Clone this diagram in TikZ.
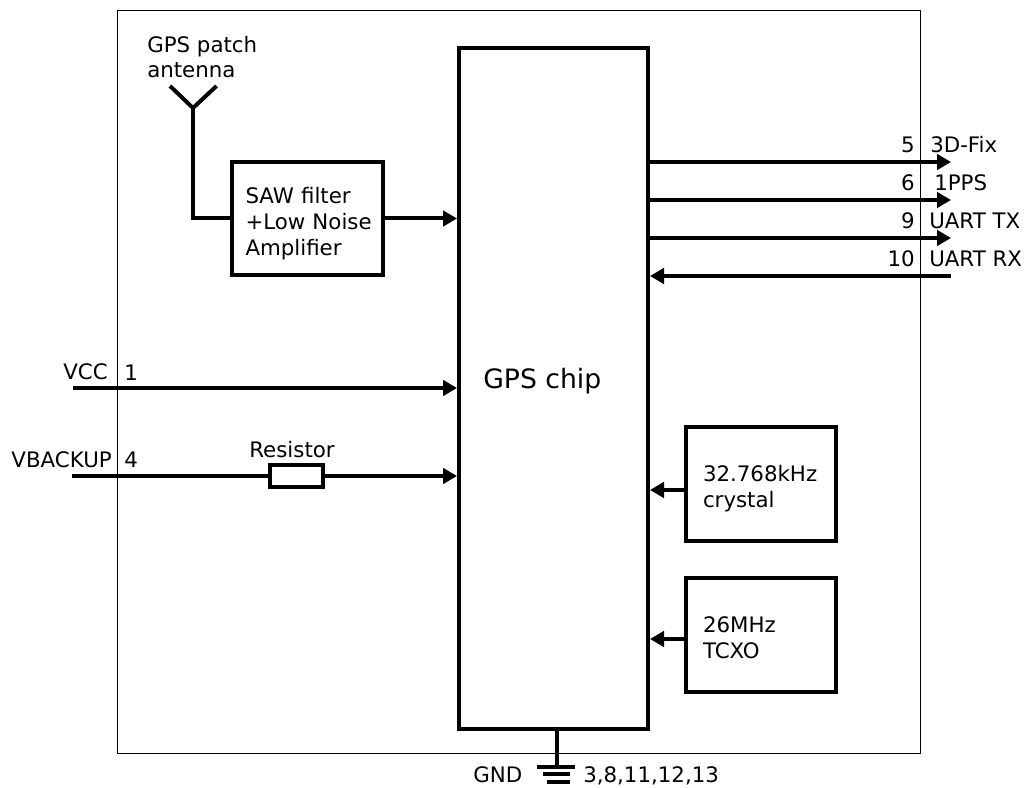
\documentclass[tikz,border=0pt]{standalone}
\usepackage{fontspec}
\setmainfont{DejaVu Sans}
\usetikzlibrary{arrows.meta, positioning}
\tikzset{
  wire/.style={line width=3pt},
  feed/.style={wire, -{Triangle[length=10.5pt,width=11.5pt]}},
  blockbox/.style={draw, line width=3pt, align=left, inner ysep=0pt, minimum width=113pt, minimum height=85pt, font=\fontsize{16}{19.5}\selectfont, execute at begin node={\rule{0pt}{#1}}},
  clockbox/.style={blockbox=#1, inner xsep=13pt, text width=87pt},
  tag/.style={font=\fontsize{16}{19.5}\selectfont, inner sep=0pt}
}

\begin{document}
\begin{tikzpicture}[x=0.75pt, y=-0.75pt]
  \useasboundingbox (0,0) rectangle (1026,788);

  % module outline
  \draw[line width=0.8pt] (117.5,10.7) rectangle (920.7,753.3);

  % main blocks
  \node[draw, line width=3pt, minimum width=141.75pt, minimum height=510.75pt] (chip) at (553.5,388.5) {};
  \node[tag, anchor=base west, font=\fontsize{20}{24}\selectfont] (chiplabel) at (483,388) {GPS chip};
  \node[blockbox=19.7pt, inner xsep=10pt, text width=93pt] (saw) at (307.5,218.5) {SAW filter\\+Low~Noise\\Amplifier};
  \node[clockbox=19.7pt] (crystal) at (761,484) {32.768kHz\\crystal};
  \node[clockbox=15.5pt] (tcxo) at (761,635) {26MHz\\TCXO};
  \node[draw, line width=3pt, inner sep=0pt, minimum width=39.75pt, minimum height=16.5pt] (resistor) at (296,476) {};

  % antenna
  \coordinate (ant) at (193,108);
  \coordinate (antl) at (170,86);
  \coordinate (antr) at (216.5,86);
  \draw[wire] (antl) -- (ant) -- (antr);
  \draw[wire] (ant) |- (saw.west);
  \node[tag, anchor=base west] (antlabel) at (147,53) {GPS patch};
  \node[tag, anchor=base west] (antlabelb) at (147,78) {antenna};
  \draw[feed] (saw.east) -- (saw.east -| chip.west);

  % outgoing pins
  \foreach \y/\name/\pin/\lab/\lx in {162/fix/5/3D-Fix/930, 200/pps/6/1PPS/934, 238/tx/9/UART TX/929} {
      \coordinate (\name) at (951,\y);
      \draw[feed] (\name -| chip.east) -- (\name);
      \node[tag, anchor=base east] (\name pin) at (915,\y-9) {\pin};
      \node[tag, anchor=base west] (\name label) at (\lx,\y-9) {\lab};
    }

  % incoming pin
  \coordinate (rx) at (951,276);
  \draw[feed] (rx) -- (rx -| chip.east);
  \node[tag, anchor=base east] (rxpin) at (915,267) {10};
  \node[tag, anchor=base west] (rxlabel) at (929,267) {UART RX};

  % supply pins
  \coordinate (vcc) at (73,388);
  \draw[feed] (vcc) -- (vcc -| chip.west);
  \node[tag, anchor=base east] (vcclabel) at (108,380) {VCC};
  \node[tag, anchor=base west] (vccpin) at (124,381) {1};
  \coordinate (vbackup) at (72,476);
  \draw[wire] (vbackup) -- (resistor.west);
  \draw[feed] (resistor.east) -- (resistor.east -| chip.west);
  \node[tag, anchor=base east] (vbackuplabel) at (112,467) {VBACKUP};
  \node[tag, anchor=base west] (vbackuppin) at (124,467) {4};
  \node[tag, anchor=base] (resistorlabel) at (292,457) {Resistor};

  % clocks
  \foreach \name/\y in {crystal/490,tcxo/639} {
      \coordinate (\name tap) at (685,\y);
      \draw[feed] (\name tap) -- (\name tap -| chip.east);
    }

  % ground
  \coordinate (gnd) at (556.5,767);
  \draw[wire] (chip.south -| gnd) -- (gnd);
  \foreach \y/\a/\b in {767/537/575, 774/543/570, 782/547/570} {
      \draw[wire] (\a,\y) -- (\b,\y);
    }
  \node[tag, anchor=base west] (gndlabel) at (473,782) {GND};
  \node[tag, anchor=base west] (gndpins) at (583,782) {3,8,11,12,13};
\end{tikzpicture}
\end{document}
